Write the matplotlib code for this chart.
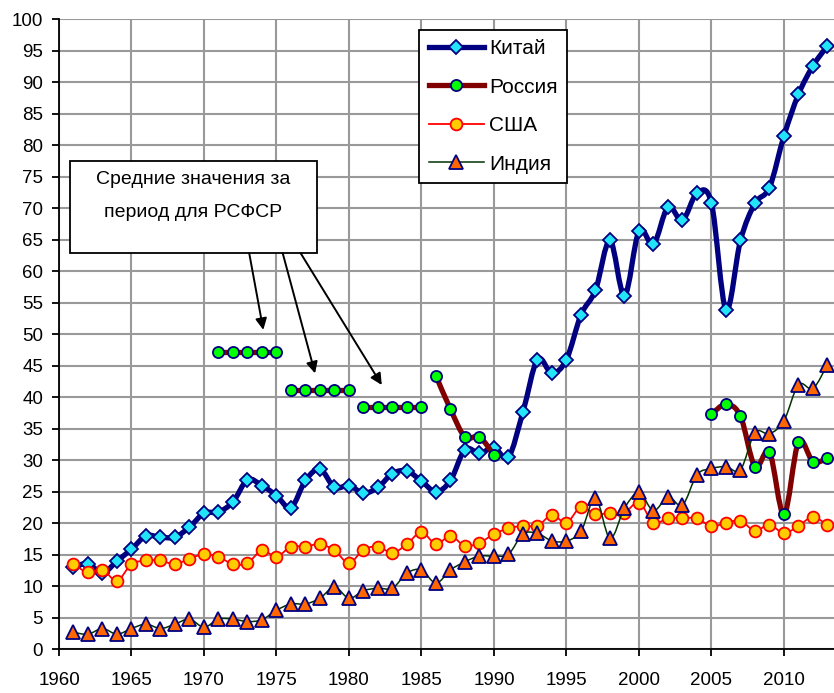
import numpy as np
import matplotlib.pyplot as plt
from matplotlib.path import Path
from matplotlib.patches import PathPatch, Rectangle
from matplotlib.lines import Line2D

plt.rcParams['font.family'] = ['Liberation Sans', 'DejaVu Sans']

### DATA ###
years = np.arange(1961, 2014)

china = [13.0, 13.6, 12.1, 14.0, 15.9, 18.0, 17.8, 17.8, 19.4, 21.6,
         21.8, 23.4, 26.9, 26.0, 24.4, 22.5, 26.8, 28.6, 25.7, 26.0,
         24.8, 25.7, 27.9, 28.3, 26.7, 25.0, 26.8, 31.7, 31.1, 32.0,
         30.5, 37.7, 46.0, 43.8, 46.0, 53.1, 57.0, 64.9, 56.1, 66.4,
         64.3, 70.2, 68.1, 72.4, 70.8, 53.9, 64.9, 70.8, 73.3, 81.5,
         88.1, 92.6, 95.8]

usa = [13.5, 12.2, 12.6, 10.9, 13.5, 14.1, 14.1, 13.5, 14.4, 15.1,
       14.7, 13.5, 13.7, 15.7, 14.7, 16.3, 16.3, 16.7, 15.7, 13.7,
       15.8, 16.3, 15.3, 16.7, 18.6, 16.7, 18.0, 16.4, 16.9, 18.3,
       19.2, 19.6, 19.6, 21.3, 20.1, 22.6, 21.4, 21.7, 21.7, 23.3,
       20.1, 20.8, 20.8, 20.8, 19.5, 20.1, 20.4, 18.8, 19.8, 18.4,
       19.6, 21.0, 19.7]

india = [2.7, 2.4, 3.3, 2.4, 3.3, 4.0, 3.3, 4.0, 4.8, 3.5,
         4.8, 4.8, 4.4, 4.7, 6.2, 7.2, 7.2, 8.1, 9.9, 8.1,
         9.3, 9.7, 9.7, 12.1, 12.6, 10.5, 12.6, 13.9, 14.8, 14.8,
         15.1, 18.3, 18.4, 17.2, 17.2, 18.7, 24.0, 17.6, 22.4, 24.9,
         22.0, 24.2, 22.9, 27.7, 28.7, 29.0, 28.5, 34.4, 34.2, 36.3,
         42.0, 41.4, 45.2]

# средние значения РСФСР (по пятилеткам)
rsfsr_periods = [(1971, 1975), (1976, 1980), (1981, 1985)]
rsfsr_values = [47.2, 41.2, 38.5]

russia_years_1 = [1986, 1987, 1988, 1989, 1990]
russia_1 = [43.4, 38.1, 33.7, 33.7, 30.8]
russia_years_2 = [2005, 2006, 2007, 2008, 2009, 2010, 2011, 2012, 2013]
russia_2 = [37.3, 38.9, 37.0, 29.0, 31.3, 21.4, 32.9, 29.8, 30.3]


def smooth(ax, x, y, color, lw, z):
    # сглаженная линия как в Excel (Catmull-Rom -> Bezier)
    p = np.column_stack([x, y]).astype(float)
    n = len(p)
    verts = [p[0]]
    codes = [Path.MOVETO]
    for i in range(n - 1):
        p0 = p[max(i - 1, 0)]
        p1 = p[i]
        p2 = p[i + 1]
        p3 = p[min(i + 2, n - 1)]
        verts += [p1 + (p2 - p0) / 6, p2 - (p3 - p1) / 6, p2]
        codes += [Path.CURVE4] * 3
    patch = PathPatch(Path(verts, codes), facecolor='none', edgecolor=color,
                      lw=lw, zorder=z, capstyle='round', joinstyle='round')
    ax.add_patch(patch)


fig = plt.figure(figsize=(8.34, 6.93), dpi=100)
ax = fig.add_axes([59 / 834, 43.7 / 693, 775 / 834, 630 / 693])

china_mk = dict(marker='D', ms=7.5, mfc='#22e4f8', mec='#000080', mew=1.3)
rus_mk = dict(marker='o', ms=8, mfc='#00ff00', mec='#000080', mew=1.3)
usa_mk = dict(marker='o', ms=8.5, mfc='#ffcc00', mec='#ff0000', mew=1.3)
india_mk = dict(marker='^', ms=9.5, mfc='#ff6600', mec='#000080', mew=1.3)

# Китай
smooth(ax, years, china, '#000080', 3.8, 3)
ax.plot(years, china, ls='none', zorder=4, **china_mk)

# Россия
for (a, b), v in zip(rsfsr_periods, rsfsr_values):
    yrs = np.arange(a, b + 1)
    vals = [v] * len(yrs)
    ax.plot(yrs, vals, color='#800000', lw=3.8, zorder=5)
    ax.plot(yrs, vals, ls='none', zorder=6, **rus_mk)
for yrs, vals in [(russia_years_1, russia_1), (russia_years_2, russia_2)]:
    smooth(ax, yrs, vals, '#800000', 3.8, 5)
    ax.plot(yrs, vals, ls='none', zorder=6, **rus_mk)

# США
smooth(ax, years, usa, '#ff0000', 1.3, 7)
ax.plot(years, usa, ls='none', zorder=8, **usa_mk)

# Индия
smooth(ax, years, india, '#003300', 1.1, 9)
ax.plot(years, india, ls='none', zorder=10, **india_mk)

### AXES ###
ax.set_xlim(1960, 2013.45)
ax.set_ylim(0, 100)
ax.set_xticks(np.arange(1960, 2011, 5))
ax.set_yticks(np.arange(0, 101, 5))
ax.grid(True, color='#999999', lw=1.5, zorder=0)
ax.set_axisbelow(True)
for s in ['top', 'right']:
    ax.spines[s].set_visible(False)
for s in ['left', 'bottom']:
    ax.spines[s].set_linewidth(1.3)
    ax.spines[s].set_zorder(2)
ax.tick_params(axis='x', length=5, width=1.3, pad=11, labelsize=13.5)
ax.tick_params(axis='y', length=5, width=1.3, pad=6.5, labelsize=13.5)

### ANNOTATION ###
ax.add_patch(Rectangle((1960.76, 62.86), 17.0, 14.7, facecolor='white',
                       edgecolor='black', lw=1.3, zorder=11))
ax.text(1969.26, 74.5, 'Средние значения за', ha='center', va='center',
        fontsize=14, zorder=12)
ax.text(1969.26, 69.3, 'период для РСФСР', ha='center', va='center',
        fontsize=14, zorder=12)
arrows = [((1973.12, 62.86), (1974.09, 50.7)),
          ((1975.43, 62.86), (1977.66, 43.8)),
          ((1976.67, 62.86), (1982.26, 41.95))]
for start, tip in arrows:
    ax.annotate('', xy=tip, xytext=start, zorder=12,
                arrowprops=dict(arrowstyle='-|>', color='black', lw=1.4,
                                mutation_scale=17, shrinkA=0, shrinkB=0))

### LEGEND ###
handles = [
    Line2D([], [], color='#000080', lw=3.8, **china_mk),
    Line2D([], [], color='#800000', lw=3.8, **rus_mk),
    Line2D([], [], color='#ff0000', lw=1.3, **usa_mk),
    Line2D([], [], color='#003300', lw=1.1, **india_mk),
]
leg = fig.legend(handles, ['Китай', 'Россия', 'США', 'Индия'],
                 loc='upper left', bbox_to_anchor=(419.3 / 834, 1 - 30 / 693),
                 borderaxespad=0, fontsize=15, handlelength=2.65,
                 handletextpad=0.25, labelspacing=0.93, borderpad=0.45,
                 fancybox=False, framealpha=1, edgecolor='black')
leg.get_frame().set_linewidth(1.3)

fig.savefig('out.png', dpi=100)
